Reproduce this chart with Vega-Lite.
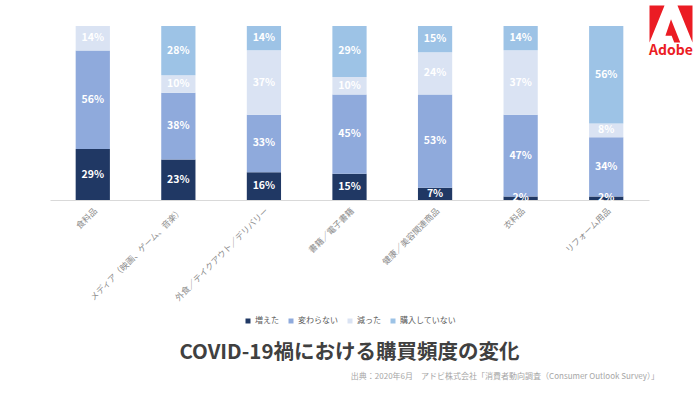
{
  "$schema": "https://vega.github.io/schema/vega-lite/v6.json",
  "padding": {"left": 50, "top": 5, "right": 5, "bottom": 5},
  "background": "white",
  "config": {"font": "Noto Sans CJK JP", "view": {"stroke": null}, "concat": {"spacing": 0}, "legend": {"layout": {"bottom": {"anchor": "middle"}}}},
  "resolve": {"scale": {"color": "independent"}, "legend": {"color": "independent"}},
  "title": {"text": "出典：2020年6月　アドビ株式会社「消費者動向調査（Consumer Outlook Survey）」", "orient": "bottom", "anchor": "end", "fontSize": 8, "fontWeight": "normal", "color": "#a6a6a6", "dx": -34, "offset": 9},
  "hconcat": [
    {
      "width": 599,
      "height": 194,
      "data": {"values": [
        {"cat": "食料品", "series": "増えた", "pct": 0.29},
        {"cat": "食料品", "series": "変わらない", "pct": 0.56},
        {"cat": "食料品", "series": "減った", "pct": 0.14},
        {"cat": "メディア（映画、ゲーム、音楽）", "series": "増えた", "pct": 0.23},
        {"cat": "メディア（映画、ゲーム、音楽）", "series": "変わらない", "pct": 0.38},
        {"cat": "メディア（映画、ゲーム、音楽）", "series": "減った", "pct": 0.10},
        {"cat": "メディア（映画、ゲーム、音楽）", "series": "購入していない", "pct": 0.28},
        {"cat": "外食／テイクアウト／デリバリー", "series": "増えた", "pct": 0.16},
        {"cat": "外食／テイクアウト／デリバリー", "series": "変わらない", "pct": 0.33},
        {"cat": "外食／テイクアウト／デリバリー", "series": "減った", "pct": 0.37},
        {"cat": "外食／テイクアウト／デリバリー", "series": "購入していない", "pct": 0.14},
        {"cat": "書籍／電子書籍", "series": "増えた", "pct": 0.15},
        {"cat": "書籍／電子書籍", "series": "変わらない", "pct": 0.45},
        {"cat": "書籍／電子書籍", "series": "減った", "pct": 0.10},
        {"cat": "書籍／電子書籍", "series": "購入していない", "pct": 0.29},
        {"cat": "健康／美容関連商品", "series": "増えた", "pct": 0.07},
        {"cat": "健康／美容関連商品", "series": "変わらない", "pct": 0.53},
        {"cat": "健康／美容関連商品", "series": "減った", "pct": 0.24},
        {"cat": "健康／美容関連商品", "series": "購入していない", "pct": 0.15},
        {"cat": "衣料品", "series": "増えた", "pct": 0.02},
        {"cat": "衣料品", "series": "変わらない", "pct": 0.47},
        {"cat": "衣料品", "series": "減った", "pct": 0.37},
        {"cat": "衣料品", "series": "購入していない", "pct": 0.14},
        {"cat": "リフォーム用品", "series": "増えた", "pct": 0.02},
        {"cat": "リフォーム用品", "series": "変わらない", "pct": 0.34},
        {"cat": "リフォーム用品", "series": "減った", "pct": 0.08},
        {"cat": "リフォーム用品", "series": "購入していない", "pct": 0.56}
      ]},
      "transform": [
        {"stack": "pct", "groupby": ["cat"], "sort": [{"field": "series"}], "offset": "normalize", "as": ["y0", "y1"]},
        {"calculate": "(datum.y0 + datum.y1) / 2", "as": "ymid"}
      ],
      "encoding": {
        "x": {
          "field": "cat", "type": "nominal", "sort": null, "title": null,
          "scale": {"paddingInner": 0.6, "paddingOuter": 0.3},
          "axis": {"labelAngle": -45, "labelFontSize": 8.5, "labelColor": "#8c8c8c", "ticks": false, "domainColor": "#d9d9d9", "labelPadding": 6, "labelLimit": 0}
        }
      },
      "layer": [
        {
          "mark": {"type": "bar"},
          "encoding": {
            "y": {"field": "y0", "type": "quantitative", "scale": {"domain": [0, 1.115], "nice": false, "zero": true}, "axis": null},
            "y2": {"field": "y1"},
            "color": {
              "field": "series", "type": "nominal",
              "scale": {"domain": ["増えた", "変わらない", "減った", "購入していない"], "range": ["#203864", "#8faadc", "#dae3f3", "#9dc3e6"]},
              "legend": {"orient": "bottom", "direction": "horizontal", "title": null, "symbolType": "square", "symbolSize": 25, "labelFontSize": 8, "labelColor": "#595959", "columnPadding": 8, "labelOffset": 3, "offset": 14}
            }
          }
        },
        {
          "mark": {"type": "text", "color": "white", "fontWeight": "bold", "fontSize": 10.5},
          "encoding": {
            "y": {"field": "ymid", "type": "quantitative"},
            "text": {"field": "pct", "type": "quantitative", "format": ".0%"}
          }
        }
      ],
      "title": {"text": "COVID-19禍における購買頻度の変化", "orient": "bottom", "anchor": "middle", "fontSize": 20.5, "fontWeight": "bold", "color": "#404040", "offset": 18}
    },
    {
      "width": 40,
      "height": 36,
      "data": {"values": [{"brand": "Adobe"}]},
      "mark": {"type": "point", "shape": "M-1,-0.86L-0.3,-0.86L-1,0.86Z M0.3,-0.86L1,-0.86L1,0.86Z M0,-0.22L0.43,0.86L0.15,0.86L0.03,0.55L-0.26,0.55Z", "size": 1849, "filled": true, "color": "#eb1c24", "opacity": 1, "strokeWidth": 0},
      "encoding": {},
      "title": {"text": "Adobe", "orient": "bottom", "anchor": "middle", "fontSize": 14, "fontWeight": "bold", "color": "#eb1c24", "offset": 2}
    }
  ]
}
